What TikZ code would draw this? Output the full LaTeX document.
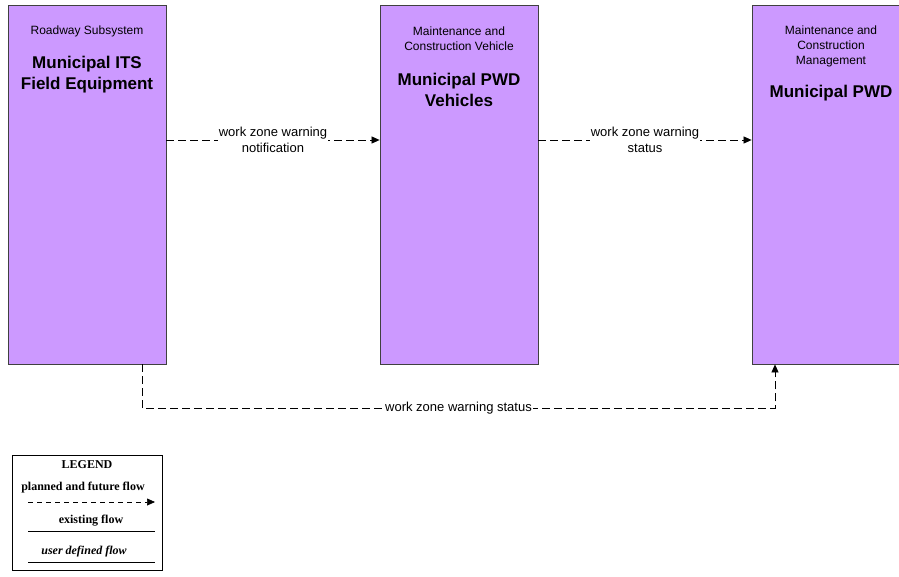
\documentclass[tikz,border=0pt]{standalone}
\usepackage{fontspec}
\setmainfont{Liberation Sans}
\newfontfamily\legendfont{Liberation Serif}
\usetikzlibrary{arrows.meta,positioning,calc}
\definecolor{boxfill}{RGB}{204,153,255}
\definecolor{boxline}{RGB}{64,64,64}

\tikzset{
  subsys/.style={draw=boxline, fill=boxfill, line width=0.8pt, minimum width=158pt, minimum height=359pt, inner sep=0pt},
  classtxt/.style={font=\fontsize{12}{15}\selectfont, align=center, inner sep=0pt},
  nametxt/.style={font=\fontsize{17}{21}\selectfont\bfseries, align=center, inner sep=0pt},
  flow/.style={dashed, dash pattern=on 8pt off 4pt, line width=0.7pt, -{Triangle[length=8pt,width=7pt]}},
  flowlbl/.style={font=\fontsize{13}{16}\selectfont, align=center, fill=white, inner sep=1pt},
  legtxt/.style={font=\legendfont\bfseries\fontsize{12}{12}\selectfont, inner sep=0pt}
}

\begin{document}
\begin{tikzpicture}[x=1pt, y=-1pt]
  \useasboundingbox (0,0) rectangle (899,576);

  % Subsystems
  \node[subsys] (fe)  at (87,184.5) {};
  \node[subsys] (veh) at (459,184.5) {};
  \node[subsys] (mgt) at (831,184.5) {};

  % Texts in the boxes
  \node[classtxt] at (87,31) {Roadway Subsystem};
  \node[nametxt]  at (87,74.5) {Municipal ITS\\Field Equipment};

  \node[classtxt] at (459,38.5) {Maintenance and\\Construction Vehicle};
  \node[nametxt]  at (459,89.5) {Municipal PWD\\Vehicles};

  \node[classtxt] at (831,46) {Maintenance and\\Construction\\Management};
  \node[nametxt]  at (831,93) {Municipal PWD};

  % Flows
  \coordinate (row) at (0,140);
  \draw[flow] (fe.east |- row) -- (veh.west |- row)
    node[midway, flowlbl] {work zone warning\\notification};
  \draw[flow] (veh.east |- row) -- (mgt.west |- row)
    node[midway, flowlbl] {work zone warning\\status};
  \draw[flow] ([xshift=55pt]fe.south) -- ++(0,44) -| ([xshift=-56pt]mgt.south)
    node[pos=0.25, flowlbl] {work zone warning status};

  % Legend
  \draw[line width=0.8pt] (12,455) rectangle (162,570);
  \node[legtxt] (leg) at (87,465) {LEGEND};
  \node[legtxt] (planned) at (83,488) {planned and future flow};
  \coordinate (p1) at (28,502);
  \coordinate (p2) at (155,502);
  \draw[flow, dash pattern=on 5pt off 4pt] (p1) -- (p2);
  \node[legtxt] (exist) at (91,521) {existing flow};
  \coordinate (e1) at (28,531);
  \coordinate (e2) at (155,531);
  \draw[line width=0.7pt] (e1) -- (e2);
  \node[legtxt, font=\legendfont\bfseries\itshape\fontsize{12}{12}\selectfont] (user) at (84,552) {user defined flow};
  \coordinate (u1) at (28,562);
  \coordinate (u2) at (155,562);
  \draw[line width=0.7pt] (u1) -- (u2);
\end{tikzpicture}
\end{document}
